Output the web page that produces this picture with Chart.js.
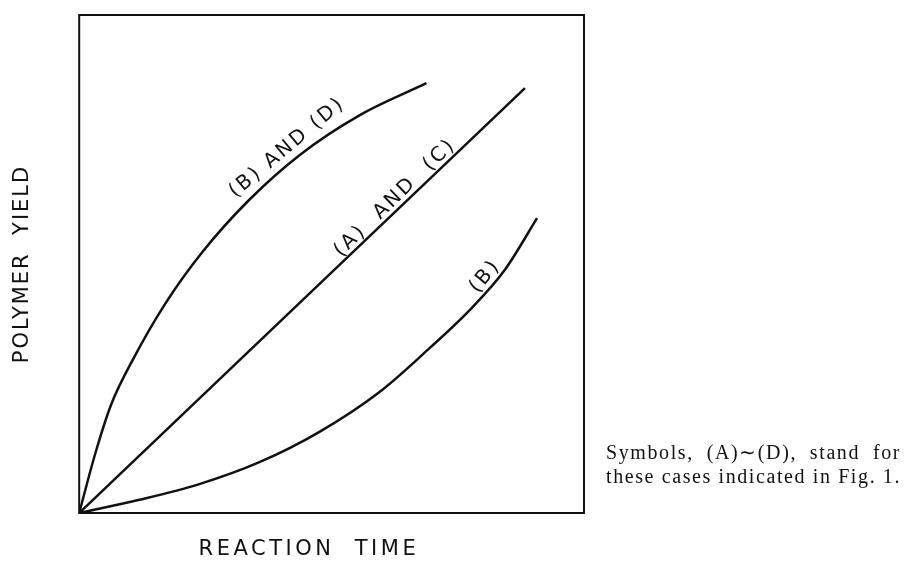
<!DOCTYPE html>
<html lang="en">
  <head>
    <meta charset="UTF-8" />
    <title>Polymer yield vs reaction time</title>
    <style>
      body {
        margin: 0;
        background: #ffffff;
      }

      .wrap {
        width: 915px;
        height: 578px;
      }
    </style>
    <script src="https://cdn.jsdelivr.net/npm/chart.js"></script>
  </head>
  <body>
    <div class="wrap">
      <canvas id="yieldChart" width="915" height="578"></canvas>
    </div>
    <script>
      // curves (x = reaction time, y = polymer yield, both 0..100)
      const timeBD = [0, 3.2, 6.3, 10.9, 16.9, 24.4, 33.7, 43.7, 55.6, 68.8];
      const yieldBD = [0, 12.0, 21.7, 31.3, 41.8, 52.4, 62.9, 71.9, 79.9, 86.3];

      const timeAC = [0, 88.3];
      const yieldAC = [0, 85.3];

      const timeB = [0, 11.7, 23.8, 35.7, 47.6, 59.5, 69.4, 77.4, 84.3, 90.7];
      const yieldB = [0, 2.6, 5.8, 10.2, 16.3, 24.3, 33.1, 40.8, 48.8, 59.2];

      const curveLabels = ["(B) AND (D)", "(A)  AND  (C)", "(B)"];
      const xTitle = "REACTION  TIME";
      const captionLines = ["Symbols, (A)\u223C(D), stand for", "these cases indicated in Fig. 1."];

      const toPoints = (xs, ys) => xs.map((x, i) => ({ x: x, y: ys[i] }));

      const lineStyle = {
        borderColor: "#111111",
        borderWidth: 2.5,
        pointRadius: 0,
        showLine: true,
        fill: false,
        cubicInterpolationMode: "monotone",
      };

      // where the labels sit on each curve (data units) and their slant
      const labelSpots = [
        { x: 42.5, y: 71.8, angle: -40 },
        { x: 64.0, y: 61.8, angle: -44 },
        { x: 82.0, y: 46.2, angle: -50 },
      ];

      const boxAndText = {
        id: "boxAndText",
        beforeDraw(chart) {
          chart.ctx.letterSpacing = "2px";
        },
        afterDraw(chart) {
          const { ctx, chartArea, scales } = chart;
          ctx.save();
          ctx.strokeStyle = "#111111";
          ctx.lineWidth = 2;
          ctx.strokeRect(chartArea.left, chartArea.top, chartArea.right - chartArea.left, chartArea.bottom - chartArea.top);

          ctx.fillStyle = "#111111";
          ctx.font = "20px 'DejaVu Sans'";
          ctx.letterSpacing = "2.5px";
          ctx.textAlign = "center";
          ctx.textBaseline = "alphabetic";
          labelSpots.forEach((spot, i) => {
            const px = scales.x.getPixelForValue(spot.x);
            const py = scales.y.getPixelForValue(spot.y);
            ctx.save();
            ctx.translate(px, py);
            ctx.rotate((spot.angle * Math.PI) / 180);
            ctx.fillText(curveLabels[i], 0, -5);
            ctx.restore();
          });

          // x axis title, a little left of the box centre as in the figure
          ctx.font = "21px 'DejaVu Sans'";
          ctx.letterSpacing = "3.5px";
          ctx.textBaseline = "middle";
          ctx.fillText(xTitle, scales.x.getPixelForValue(45.5), chartArea.bottom + 37);

          // caption on the right
          ctx.letterSpacing = "1.6px";
          ctx.font = "20px 'Liberation Serif'";
          ctx.textAlign = "left";
          ctx.textBaseline = "alphabetic";
          const capLeft = chartArea.right + 22;
          const w2 = ctx.measureText(captionLines[1]).width;
          const words = captionLines[0].split(" ");
          const w1 = ctx.measureText(words.join("")).width;
          const gap = (w2 - w1) / (words.length - 1);
          let cx = capLeft;
          words.forEach((word) => {
            ctx.fillText(word, cx, 459);
            cx += ctx.measureText(word).width + gap;
          });
          ctx.fillText(captionLines[1], capLeft, 483);
          ctx.restore();
        },
      };

      new Chart(document.getElementById("yieldChart").getContext("2d"), {
        type: "scatter",
        data: {
          datasets: [
            { label: "(B) and (D)", data: toPoints(timeBD, yieldBD), ...lineStyle },
            { label: "(A) and (C)", data: toPoints(timeAC, yieldAC), ...lineStyle },
            { label: "(B)", data: toPoints(timeB, yieldB), ...lineStyle },
          ],
        },
        options: {
          responsive: false,
          animation: false,
          layout: { padding: { left: 0, top: 15, right: 331, bottom: 65 } },
          plugins: {
            legend: { display: false },
            tooltip: { enabled: false },
          },
          scales: {
            x: {
              type: "linear",
              min: 0,
              max: 100,
              grid: { display: false, drawTicks: false },
              border: { display: false },
              ticks: { display: false },
            },
            y: {
              type: "linear",
              min: 0,
              max: 100,
              grid: { display: false, drawTicks: false },
              border: { display: false },
              ticks: { display: false },
              title: {
                display: true,
                text: "POLYMER  YIELD",
                color: "#111111",
                font: { family: "DejaVu Sans", size: 21 },
                padding: { top: 10, bottom: 44 },
              },
            },
          },
        },
        plugins: [boxAndText],
      });
    </script>
  </body>
</html>
